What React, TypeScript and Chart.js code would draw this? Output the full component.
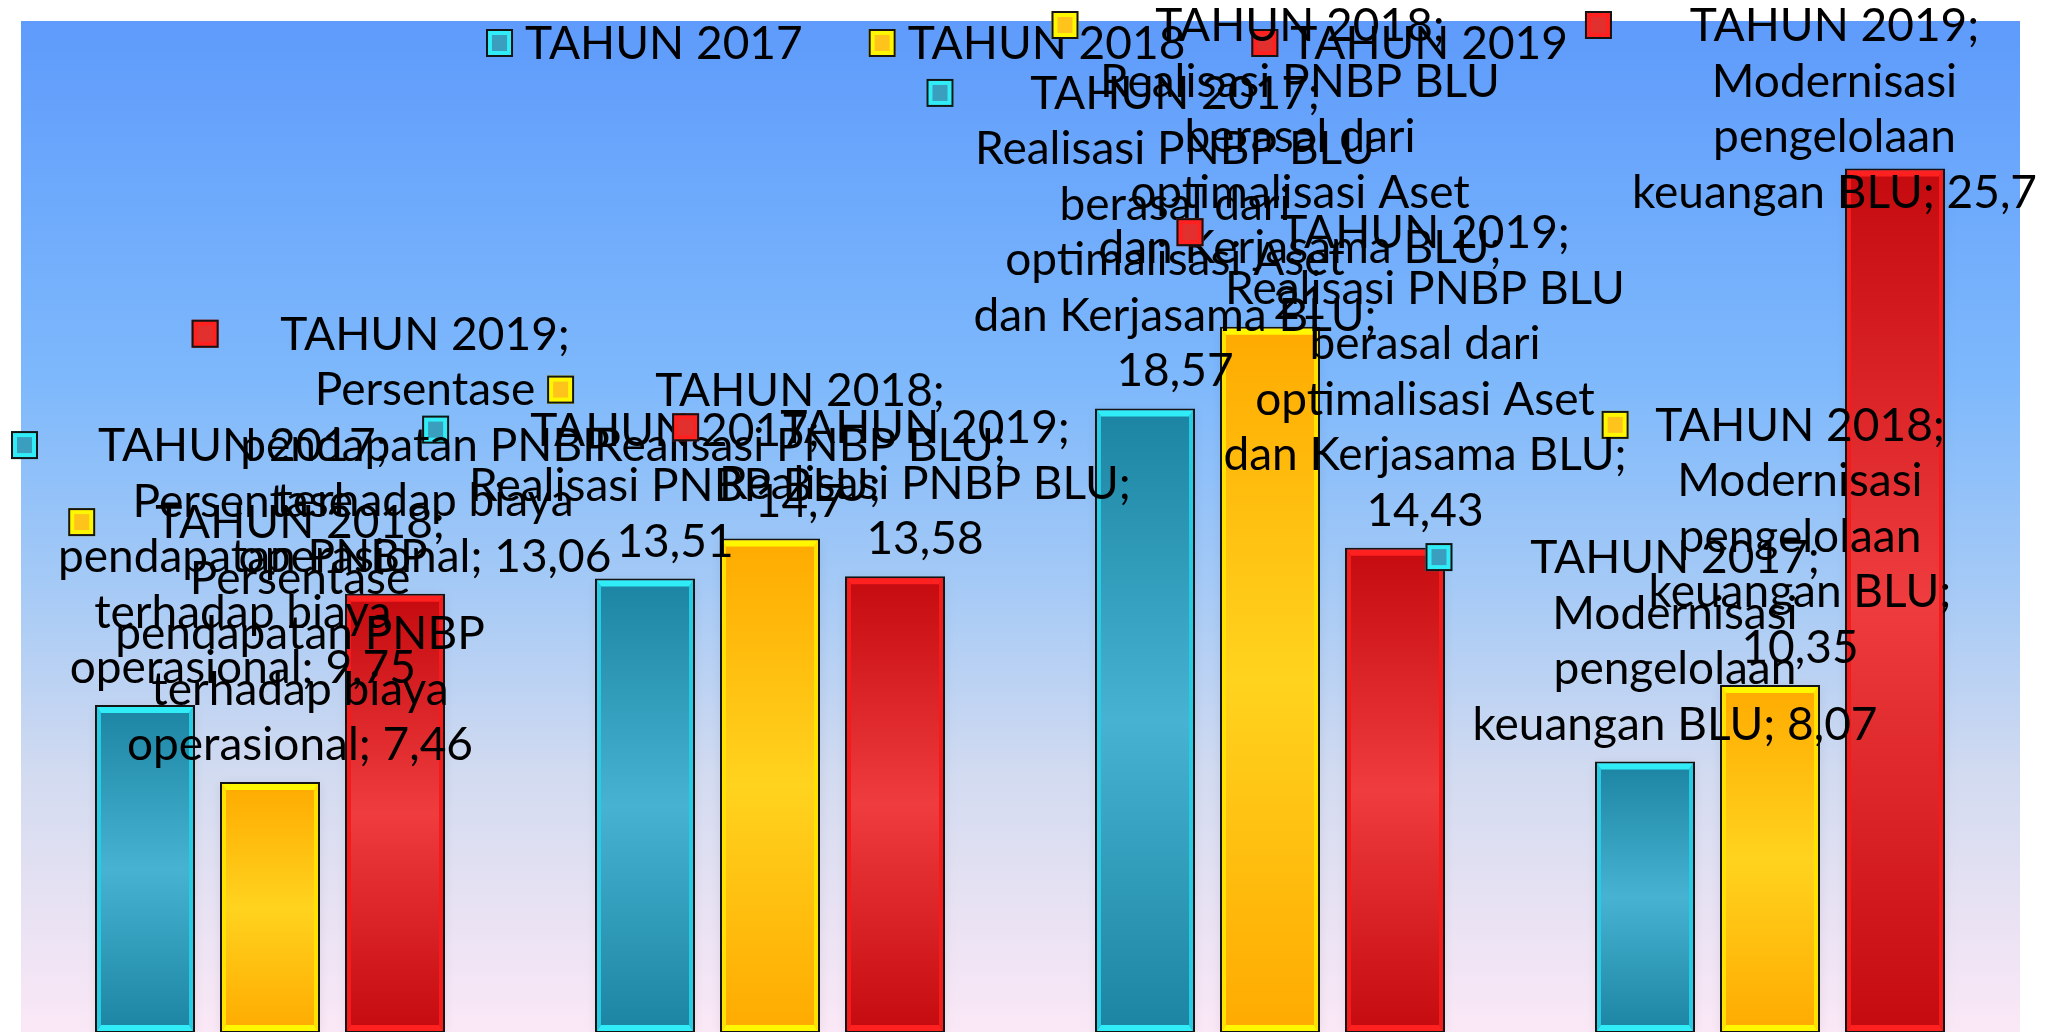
import React, { useEffect, useRef } from "react";
import { Chart, registerables } from "chart.js";

Chart.register(...registerables);

// ---------------- DATA ----------------
const categories = [
  "Persentase pendapatan PNBP terhadap biaya operasional",
  "Realisasi PNBP BLU",
  "Realisasi PNBP BLU berasal dari optimalisasi Aset dan Kerjasama BLU",
  "Modernisasi pengelolaan keuangan BLU",
];
// how the category name wraps inside the data labels
const categoryLines = [
  ["Persentase", "pendapatan PNBP", "terhadap biaya", "operasional;"],
  ["Realisasi PNBP BLU;"],
  ["Realisasi PNBP BLU", "berasal dari", "optimalisasi Aset", "dan Kerjasama BLU;"],
  ["Modernisasi", "pengelolaan", "keuangan BLU;"],
];
const seriesNames = ["TAHUN 2017", "TAHUN 2018", "TAHUN 2019"];
const values2017 = [9.75, 13.51, 18.57, 8.07];
const values2018 = [7.46, 14.7, 21, 10.35];
const values2019 = [13.06, 13.58, 14.43, 25.7];
// whether the value is written on its own line in the data label
const valueOwnLine2017 = [false, true, true, false];
const valueOwnLine2018 = [false, true, true, true];
const valueOwnLine2019 = [false, true, true, false];
const yMin = 0;
const yMax = 30;

// ---------------- STYLE ----------------
const STYLES = [
  { dark: "#1B84A2", light: "#47B2D2", bevel: "#30ECF7", side: "#28CBE4", keyInner: "#3A9EBF" },
  { dark: "#FFAA00", light: "#FFD31E", bevel: "#FFF700", side: "#FFE200", keyInner: "#FFC41C" },
  { dark: "#C40A0E", light: "#EF3C3E", bevel: "#FF2020", side: "#F51B1B", keyInner: "#E2302F" },
];
const FONT = "46px Lato";
const LINE_H = 55.5;
const BASELINE_OFF = 16;
const LABEL_DX = 30;
const LABEL_GAP_ABOVE = 38;
const KEY_W = 27;
const KEY_H = 28;
const KEY_GAP = 20;
const CLAMP_LEFT = 11;
const CLAMP_RIGHT = 2037;
const CLAMP_TOP = 25;
const W = 2065;
const H = 1040;

const fmt = (v: number) => String(v).replace(".", ",");

function drawKey(ctx: CanvasRenderingContext2D, x: number, y: number, st: any) {
  ctx.fillStyle = st.bevel;
  ctx.fillRect(x, y, KEY_W, KEY_H);
  ctx.fillStyle = st.keyInner;
  ctx.fillRect(x + 6, y + 6, KEY_W - 12, KEY_H - 12);
  ctx.strokeStyle = "#141414";
  ctx.lineWidth = 2;
  ctx.strokeRect(x + 1, y + 1, KEY_W - 2, KEY_H - 2);
}

const bgPlugin = {
  id: "bgPlugin",
  beforeDraw(chart: any) {
    const ctx = chart.ctx as CanvasRenderingContext2D;
    ctx.save();
    const top = 21;
    const g = ctx.createLinearGradient(0, top, 0, 1032);
    g.addColorStop(0, "#5E9BFB");
    g.addColorStop(0.35, "#7DB8FC");
    g.addColorStop(0.55, "#A3C9F6");
    g.addColorStop(0.75, "#D3DBF0");
    g.addColorStop(1, "#FBE8F6");
    ctx.fillStyle = g;
    ctx.fillRect(21, top, 2020 - 21, H - top);
    ctx.restore();
  },
  beforeDatasetsDraw(chart: any) {
    const ctx = chart.ctx as CanvasRenderingContext2D;
    ctx.save();
    chart.data.datasets.forEach((_: any, s: number) => {
      const meta = chart.getDatasetMeta(s);
      meta.data.forEach((el: any) => {
        const l = el.x - el.width / 2;
        ctx.shadowColor = "rgba(0,0,40,0.35)";
        ctx.shadowBlur = 10;
        ctx.fillStyle = "rgba(0,0,0,0.25)";
        ctx.fillRect(l + 1, el.y + 2, el.width - 2, el.base - el.y);
      });
    });
    ctx.restore();
  },
  afterDatasetsDraw(chart: any) {
    const ctx = chart.ctx as CanvasRenderingContext2D;
    ctx.save();
    chart.data.datasets.forEach((_: any, s: number) => {
      const st = STYLES[s];
      const meta = chart.getDatasetMeta(s);
      meta.data.forEach((el: any) => {
        const li = el.x - el.width / 2 + 2;
        const ri = el.x + el.width / 2 - 2;
        const ti = el.y + 2;
        const bi = el.base - 2;
        const sd = 4;
        const tb = 6;
        const poly = (pts: number[][], color: string) => {
          ctx.beginPath();
          ctx.moveTo(pts[0][0], pts[0][1]);
          for (let k = 1; k < pts.length; k++) ctx.lineTo(pts[k][0], pts[k][1]);
          ctx.closePath();
          ctx.fillStyle = color;
          ctx.fill();
        };
        poly([[li, ti], [li + sd, ti + tb], [li + sd, bi - tb], [li, bi]], st.side);
        poly([[ri, ti], [ri - sd, ti + tb], [ri - sd, bi - tb], [ri, bi]], st.side);
        poly([[li, ti], [ri, ti], [ri - sd, ti + tb], [li + sd, ti + tb]], st.bevel);
        poly([[li, bi], [ri, bi], [ri - sd, bi - tb], [li + sd, bi - tb]], st.bevel);
      });
    });
    ctx.restore();
  },
  afterDraw(chart: any) {
    const ctx = chart.ctx as CanvasRenderingContext2D;
    ctx.save();
    ctx.font = FONT;
    ctx.textBaseline = "alphabetic";

    // legend
    const legendGap = 12;
    const itemGap = 66;
    const tws = seriesNames.map((n) => ctx.measureText(n).width);
    const total = tws.reduce((a, w) => a + KEY_W + legendGap + w, 0) + itemGap * (seriesNames.length - 1);
    let lx = 1027 - total / 2;
    const ly = 43;
    seriesNames.forEach((n, s) => {
      drawKey(ctx, lx, ly - KEY_H / 2, STYLES[s]);
      ctx.fillStyle = "#000";
      ctx.textAlign = "left";
      ctx.fillText(n, lx + KEY_W + legendGap, ly + BASELINE_OFF);
      lx += KEY_W + legendGap + tws[s] + itemGap;
    });

    // data labels
    const ownLine = [valueOwnLine2017, valueOwnLine2018, valueOwnLine2019];
    chart.data.datasets.forEach((ds: any, s: number) => {
      const meta = chart.getDatasetMeta(s);
      meta.data.forEach((el: any, i: number) => {
        const v = ds.data[i];
        const cl = categoryLines[i];
        const lines = [seriesNames[s] + ";", ...cl.slice(0, -1)];
        const last = cl[cl.length - 1];
        if (ownLine[s][i]) {
          lines.push(last, fmt(v));
        } else {
          lines.push(last + " " + fmt(v));
        }
        const maxW = Math.max(...lines.map((t) => ctx.measureText(t).width));
        let cx = el.x + LABEL_DX;
        let firstY = el.y - LABEL_GAP_ABOVE - (lines.length - 1) * LINE_H;
        if (firstY < CLAMP_TOP) firstY = CLAMP_TOP;
        const boxLeft = cx - maxW / 2 - KEY_GAP - KEY_W;
        if (boxLeft < CLAMP_LEFT) cx += CLAMP_LEFT - boxLeft;
        const boxRight = cx + maxW / 2;
        if (boxRight > CLAMP_RIGHT) cx -= boxRight - CLAMP_RIGHT;
        drawKey(ctx, cx - maxW / 2 - KEY_GAP - KEY_W, firstY - KEY_H / 2, STYLES[s]);
        ctx.fillStyle = "#000";
        ctx.textAlign = "center";
        lines.forEach((t, k) => ctx.fillText(t, cx, firstY + k * LINE_H + BASELINE_OFF));
      });
    });
    ctx.restore();
  },
};

function barFill(s: number) {
  return (c: any) => {
    const chart = c.chart;
    const st = STYLES[s];
    const sc = chart.scales && chart.scales.y;
    if (!chart.chartArea || !sc || typeof c.raw !== "number") return st.light;
    const top = sc.getPixelForValue(c.raw);
    const bottom = sc.getPixelForValue(0);
    if (!isFinite(top) || !isFinite(bottom) || bottom - top < 1) return st.light;
    const g = chart.ctx.createLinearGradient(0, top, 0, bottom);
    g.addColorStop(0, st.dark);
    g.addColorStop(0.5, st.light);
    g.addColorStop(1, st.dark);
    return g;
  };
}

export default function App() {
  const ref = useRef<HTMLCanvasElement | null>(null);
  useEffect(() => {
    document.body.style.margin = "0";
    let chart: Chart | null = null;
    let cancelled = false;
    const make = () => {
      if (cancelled || !ref.current) return;
      const seriesValues = [values2017, values2018, values2019];
      chart = new Chart(ref.current, {
        type: "bar",
        data: {
          labels: categories,
          datasets: seriesValues.map((vals, s) => ({
            label: seriesNames[s],
            data: vals,
            backgroundColor: barFill(s),
            borderColor: "#141414",
            borderWidth: 2,
            borderSkipped: false,
            categoryPercentage: 0.75,
            barPercentage: 0.8,
          })),
        },
        options: {
          responsive: false,
          animation: false,
          devicePixelRatio: 1,
          layout: { padding: { left: 20, right: 45, top: 24, bottom: 7 } },
          plugins: { legend: { display: false }, tooltip: { enabled: false } },
          scales: {
            x: { display: false, grid: { display: false } },
            y: { display: false, min: yMin, max: yMax, grid: { display: false } },
          },
        },
        plugins: [bgPlugin],
      });
    };
    const fontsAny = (document as any).fonts;
    if (fontsAny && fontsAny.load) {
      fontsAny.load(FONT).then(make, make);
    } else {
      make();
    }
    return () => {
      cancelled = true;
      if (chart) chart.destroy();
    };
  }, []);
  return (
    <div style={{ position: "fixed", left: 0, top: 0, width: W, height: 1032, overflow: "hidden", background: "#fff" }}>
      <canvas ref={ref} width={W} height={H} style={{ display: "block", width: W, height: H }} />
    </div>
  );
}
